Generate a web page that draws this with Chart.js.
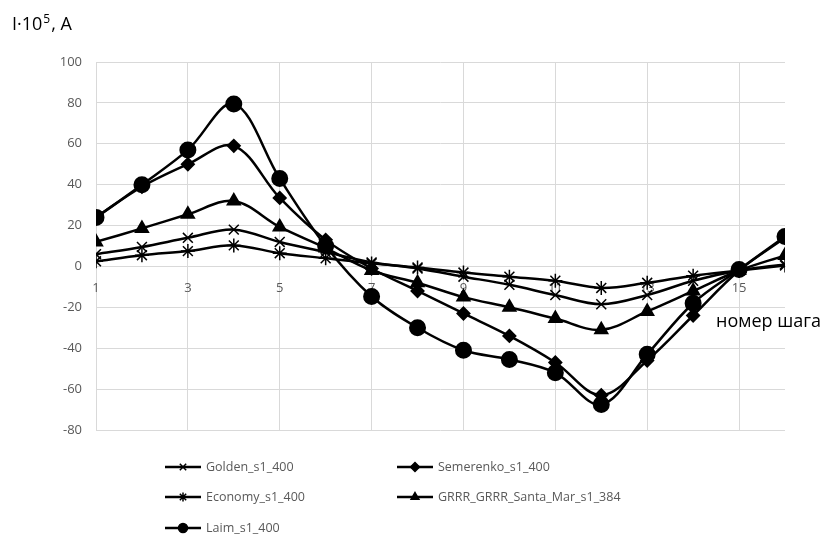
<!DOCTYPE html>
<html>
<head>
<meta charset="utf-8">
<script src="https://cdn.jsdelivr.net/npm/chart.js@4/dist/chart.umd.min.js"></script>
<style>
  html, body { margin: 0; padding: 0; background: #fff; }
  #wrap { width: 826px; height: 535px; }
</style>
</head>
<body>
<div id="wrap"><canvas id="chart-1" width="826" height="535"></canvas></div>
<script>
// step numbers and values (I*10^5, A)
let steps = [1, 2, 3, 4, 5, 6, 7, 8, 9, 10, 11, 12, 13, 14, 15, 16];
let xTicks = [1, 3, 5, 7, 9, 11, 13, 15];

let golden    = [6, 9.5, 14, 18, 12, 7, 2, -1, -5, -9, -14, -18.5, -14, -7, -2, 1];
let semerenko = [24, 39, 50, 59, 33.5, 13, -1, -12, -23, -34, -47, -63, -46, -24, -2, 14];
let economy   = [2.5, 5.5, 7.5, 10.3, 6.5, 4, 1.5, -0.5, -3, -5, -7, -10.5, -8, -4.5, -2, 0.5];
let grrr      = [12, 18.6, 25.5, 32, 19.3, 9, -2, -8, -15, -20, -25.5, -31, -22, -12, -2, 5.4];
let laim      = [24, 40, 57, 79.5, 43, 10, -14.7, -30, -41, -45.5, -52, -67.5, -43, -18, -1.5, 14.7];

let names = ['Golden_s1_400', 'Semerenko_s1_400', 'Economy_s1_400', 'GRRR_GRRR_Santa_Mar_s1_384', 'Laim_s1_400'];
let series = [golden, semerenko, economy, grrr, laim];
let markers = ['crossRot', 'rectRot', 'star', 'triangle', 'circle'];
let markerSize = [7, 6, 7, 7, 7.5];
let markerLine = [1.5, 2, 1.5, 2, 2];

let font = '"Open Sans", "DejaVu Sans", sans-serif';

let datasets = series.map((vals, i) => ({
    label: names[i],
    data: vals.map((v, k) => ({ x: steps[k], y: v })),
    borderColor: 'black',
    backgroundColor: 'black',
    borderWidth: 2.5,
    tension: 0.35,
    pointStyle: markers[i],
    pointRadius: markerSize[i],
    pointBorderWidth: markerLine[i],
    pointBackgroundColor: 'black',
    pointBorderColor: 'black'
}));

// titles + two column legend
let extras = {
    id: 'extras',
    afterDraw(chart) {
        let ctx = chart.ctx;
        ctx.save();
        ctx.fillStyle = '#000';
        ctx.textBaseline = 'alphabetic';
        ctx.textAlign = 'left';
        ctx.font = '18px ' + font;
        let t1 = 'I·10';
        ctx.fillText(t1, 12, 30);
        let w1 = ctx.measureText(t1).width;
        ctx.font = '12px ' + font;
        ctx.fillText('5', 12 + w1 + 1, 23);
        let w2 = ctx.measureText('5').width;
        ctx.font = '18px ' + font;
        ctx.fillText(', A', 12 + w1 + w2 + 2, 30);

        ctx.textBaseline = 'middle';
        ctx.fillText('номер шага', 716, 322);

        // legend
        let cols = [165, 397];
        let rows = [467, 497, 528];
        ctx.font = '12.5px ' + font;
        chart.data.datasets.forEach((ds, i) => {
            let x = cols[i % 2];
            let y = rows[Math.floor(i / 2)];
            ctx.strokeStyle = 'black';
            ctx.lineWidth = 2.5;
            ctx.beginPath();
            ctx.moveTo(x, y);
            ctx.lineTo(x + 36, y);
            ctx.stroke();
            ctx.lineWidth = 1.5;
            ctx.fillStyle = 'black';
            Chart.helpers.drawPoint(ctx, { pointStyle: ds.pointStyle, radius: 4.5, borderWidth: 1.5, rotation: 0 }, x + 18, y);
            ctx.fillStyle = '#595959';
            ctx.textBaseline = 'middle';
            ctx.fillText(ds.label, x + 41, y);
        });
        ctx.restore();
    }
};

let chart_1 = document.getElementById('chart-1');

new Chart(chart_1, {
    type: 'line',
    data: { datasets: datasets },
    plugins: [extras],
    options: {
        responsive: false,
        animation: false,
        layout: { padding: { top: 62, right: 41, bottom: 105, left: 0 } },
        plugins: {
            legend: { display: false },
            tooltip: { enabled: false }
        },
        scales: {
            x: {
                type: 'linear',
                min: 1,
                max: 16,
                position: { y: 0 },
                afterBuildTicks: (scale) => { scale.ticks = xTicks.map(v => ({ value: v })); },
                grid: { color: '#d9d9d9', lineWidth: 1, drawTicks: false },
                border: { color: '#d9d9d9', width: 1 },
                ticks: { color: '#595959', font: { family: font, size: 13 }, padding: 14, maxRotation: 0, autoSkip: false }
            },
            y: {
                min: -80,
                max: 100,
                afterFit: (scale) => { scale.width = 96; },
                grid: { color: '#d9d9d9', lineWidth: 1, drawTicks: false },
                border: { display: false },
                ticks: { stepSize: 20, color: '#595959', font: { family: font, size: 13 }, padding: 14 }
            }
        }
    }
});
</script>
</body>
</html>
